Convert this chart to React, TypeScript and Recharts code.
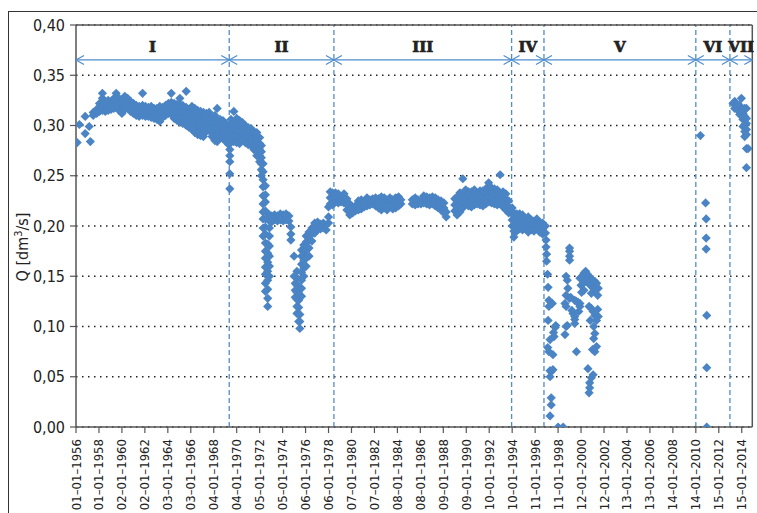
import React from "react";
import {
  ScatterChart,
  Scatter,
  XAxis,
  YAxis,
  CartesianGrid,
  ReferenceLine,
  ReferenceDot,
} from "recharts";

const FONT = "'Liberation Sans Narrow', 'Arial Narrow', 'DejaVu Sans Condensed', 'Liberation Sans', sans-serif";
const POINT_COLOR = "#4a84c4";
const LINE_BLUE = "#4f8ccc";
const AXIS_COLOR = "#555";

const X_MIN = 1956;
const X_MAX = 2014.92;

const xTickYears = [
  1956, 1958, 1960, 1962, 1964, 1966, 1968, 1970, 1972, 1974, 1976, 1978, 1980, 1982, 1984,
  1986, 1988, 1990, 1992, 1994, 1996, 1998, 2000, 2002, 2004, 2006, 2008, 2010, 2012, 2014,
];
const xTickLabels = [
  "01–01–1956", "01–01–1958", "02–01–1960", "02–01–1962", "03–01–1964", "03–01–1966",
  "04–01–1968", "04–01–1970", "05–01–1972", "05–01–1974", "06–01–1976", "06–01–1978",
  "07–01–1980", "07–01–1982", "08–01–1984", "08–01–1986", "09–01–1988", "09–01–1990",
  "10–01–1992", "10–01–1994", "11–01–1996", "11–01–1998", "12–01–2000", "12–01–2002",
  "13–01–2004", "13–01–2006", "14–01–2008", "14–01–2010", "15–01–2012", "15–01–2014",
];
const yTicks = [0, 0.05, 0.1, 0.15, 0.2, 0.25, 0.3, 0.35, 0.4];

const periodBounds = [1969.35, 1978.47, 1993.95, 1996.77, 2010.0, 2012.97];
const periodNames = ["I", "II", "III", "IV", "V", "VI", "VII"];
const ARROW_Q = 0.3652;
const LABEL_Q = 0.3734;

// columns: [year, q1, q2, ...]
const periodI: number[][] = [
  [1956.1, 0.283],
  [1956.3, 0.301],
  [1956.8, 0.292, 0.309],
  [1957.15, 0.299],
  [1957.25, 0.284],
  [1957.5, 0.31, 0.313],
  [1957.8, 0.312, 0.316],
  [1958.05, 0.314, 0.318, 0.322],
  [1958.3, 0.315, 0.32, 0.327, 0.332],
  [1958.55, 0.314, 0.319, 0.324],
  [1958.8, 0.315, 0.32, 0.325],
  [1959.05, 0.316, 0.321],
  [1959.3, 0.317, 0.322, 0.327],
  [1959.5, 0.318, 0.324, 0.332],
  [1959.75, 0.315, 0.32, 0.327],
  [1960.0, 0.312, 0.318, 0.324],
  [1960.25, 0.316, 0.322, 0.329],
  [1960.5, 0.317, 0.322, 0.327],
  [1960.75, 0.314, 0.319, 0.324],
  [1961.0, 0.312, 0.317, 0.322],
  [1961.25, 0.31, 0.315, 0.32],
  [1961.5, 0.309, 0.314, 0.319],
  [1961.8, 0.31, 0.315, 0.32, 0.332],
  [1962.05, 0.309, 0.314, 0.319],
  [1962.3, 0.309, 0.314, 0.318],
  [1962.55, 0.308, 0.313, 0.319],
  [1962.8, 0.307, 0.312, 0.317],
  [1963.05, 0.306, 0.311, 0.317],
  [1963.3, 0.304, 0.309, 0.315, 0.319],
  [1963.55, 0.308, 0.313, 0.318],
  [1963.8, 0.31, 0.315, 0.32],
  [1964.05, 0.312, 0.317, 0.322],
  [1964.3, 0.311, 0.317, 0.323, 0.332],
  [1964.55, 0.307, 0.312, 0.317, 0.322],
  [1964.8, 0.305, 0.31, 0.315, 0.321],
  [1965.05, 0.303, 0.309, 0.315, 0.321, 0.327],
  [1965.3, 0.302, 0.308, 0.314, 0.32],
  [1965.6, 0.3, 0.306, 0.312, 0.318, 0.334],
  [1965.85, 0.298, 0.304, 0.31, 0.316],
  [1966.1, 0.296, 0.302, 0.308, 0.314, 0.319],
  [1966.35, 0.293, 0.299, 0.305, 0.311, 0.317],
  [1966.6, 0.291, 0.297, 0.303, 0.309, 0.315],
  [1966.85, 0.29, 0.296, 0.302, 0.308, 0.314],
  [1967.1, 0.289, 0.295, 0.301, 0.307, 0.313],
  [1967.35, 0.294, 0.3, 0.306, 0.312],
  [1967.6, 0.295, 0.301, 0.307, 0.313],
  [1967.85, 0.289, 0.295, 0.301, 0.307],
  [1968.1, 0.285, 0.291, 0.297, 0.303, 0.31],
  [1968.3, 0.284, 0.29, 0.297, 0.305, 0.317],
  [1968.55, 0.288, 0.294, 0.3, 0.306],
  [1968.8, 0.287, 0.293, 0.299, 0.305],
  [1969.05, 0.284, 0.29, 0.296, 0.302],
  [1969.3, 0.281, 0.287, 0.293, 0.299],
];

const periodII: number[][] = [
  [1969.4, 0.237, 0.252, 0.264, 0.27, 0.276, 0.282],
  [1969.5, 0.288, 0.294, 0.3, 0.306],
  [1969.75, 0.284, 0.29, 0.296, 0.302, 0.314],
  [1970.0, 0.283, 0.289, 0.295, 0.301, 0.307],
  [1970.25, 0.282, 0.288, 0.294, 0.3, 0.305],
  [1970.5, 0.286, 0.292, 0.298, 0.303],
  [1970.75, 0.283, 0.289, 0.295, 0.3],
  [1971.0, 0.281, 0.287, 0.293, 0.298],
  [1971.25, 0.28, 0.286, 0.292, 0.297],
  [1971.5, 0.276, 0.282, 0.288, 0.294],
  [1971.75, 0.27, 0.276, 0.282, 0.288, 0.293],
  [1972.0, 0.264, 0.27, 0.276, 0.282, 0.288],
  [1972.15, 0.25, 0.256, 0.262, 0.268, 0.274, 0.28],
  [1972.3, 0.19, 0.198, 0.207, 0.214, 0.222, 0.23, 0.239, 0.246, 0.254, 0.262],
  [1972.5, 0.135, 0.143, 0.152, 0.159, 0.168, 0.175, 0.183, 0.192, 0.199, 0.207, 0.215, 0.224, 0.231, 0.24],
  [1972.7, 0.12, 0.128, 0.137, 0.146, 0.155, 0.164, 0.173, 0.182],
  [1972.85, 0.15, 0.16, 0.17, 0.18, 0.19, 0.198, 0.205, 0.211],
  [1973.05, 0.204, 0.21],
  [1973.3, 0.206, 0.211],
  [1973.55, 0.205, 0.21],
  [1973.8, 0.206, 0.212],
  [1974.05, 0.205, 0.211],
  [1974.3, 0.206, 0.212],
  [1974.55, 0.205, 0.21],
  [1974.72, 0.186, 0.192, 0.199],
  [1975.0, 0.17, 0.15],
  [1975.1, 0.143, 0.136, 0.129],
  [1975.25, 0.155, 0.148, 0.141, 0.134, 0.127, 0.12, 0.113],
  [1975.4, 0.14, 0.133, 0.126, 0.119, 0.112, 0.105],
  [1975.5, 0.098, 0.105, 0.112],
  [1975.65, 0.13, 0.138, 0.146, 0.154, 0.162, 0.17, 0.176],
  [1975.85, 0.15, 0.158, 0.166, 0.174, 0.181],
  [1976.05, 0.16, 0.168, 0.176, 0.184, 0.19],
  [1976.3, 0.17, 0.178, 0.186, 0.194],
  [1976.55, 0.185, 0.192, 0.198],
  [1976.8, 0.193, 0.199, 0.203],
  [1977.05, 0.196, 0.201, 0.204],
  [1977.3, 0.197, 0.202],
  [1977.55, 0.198, 0.203],
  [1977.8, 0.196, 0.201],
  [1978.0, 0.203, 0.209, 0.219],
  [1978.15, 0.222, 0.228, 0.234],
  [1978.35, 0.221, 0.227, 0.233],
];

const periodIII: number[][] = [
  [1978.6, 0.224, 0.229, 0.233],
  [1978.85, 0.223, 0.228, 0.232],
  [1979.1, 0.224, 0.229],
  [1979.35, 0.223, 0.228, 0.232],
  [1979.6, 0.216, 0.222, 0.227],
  [1979.85, 0.211, 0.217, 0.222],
  [1980.1, 0.213, 0.219],
  [1980.35, 0.215, 0.22],
  [1980.6, 0.216, 0.221, 0.225],
  [1980.85, 0.217, 0.222, 0.226],
  [1981.1, 0.219, 0.224],
  [1981.35, 0.22, 0.225, 0.228],
  [1981.6, 0.221, 0.226],
  [1981.85, 0.222, 0.227],
  [1982.1, 0.22, 0.225, 0.228],
  [1982.35, 0.218, 0.223, 0.227],
  [1982.6, 0.216, 0.221, 0.226, 0.229],
  [1982.85, 0.218, 0.223, 0.228],
  [1983.1, 0.216, 0.221, 0.226],
  [1983.35, 0.219, 0.224, 0.228],
  [1983.6, 0.217, 0.222, 0.226],
  [1983.85, 0.218, 0.223, 0.228],
  [1984.1, 0.22, 0.225, 0.229],
  [1984.3, 0.222, 0.226],
  [1985.3, 0.222, 0.226],
  [1985.55, 0.221, 0.225, 0.228],
  [1985.8, 0.222, 0.226],
  [1986.05, 0.222, 0.226],
  [1986.3, 0.223, 0.227, 0.23],
  [1986.55, 0.222, 0.226, 0.229],
  [1986.8, 0.221, 0.225, 0.228],
  [1987.05, 0.222, 0.226, 0.229],
  [1987.3, 0.22, 0.224, 0.228],
  [1987.55, 0.218, 0.222, 0.226],
  [1987.8, 0.216, 0.22, 0.225],
  [1988.05, 0.213, 0.218, 0.223],
  [1988.25, 0.209, 0.214],
  [1989.0, 0.215, 0.221, 0.227],
  [1989.2, 0.211, 0.217, 0.223, 0.229],
  [1989.45, 0.214, 0.22, 0.226, 0.233],
  [1989.7, 0.218, 0.224, 0.23, 0.247],
  [1989.95, 0.222, 0.227, 0.232, 0.236],
  [1990.2, 0.22, 0.225, 0.23, 0.234],
  [1990.45, 0.219, 0.224, 0.229, 0.234],
  [1990.7, 0.221, 0.226, 0.231, 0.236],
  [1990.95, 0.222, 0.227, 0.232],
  [1991.2, 0.221, 0.226, 0.231, 0.235],
  [1991.45, 0.22, 0.225, 0.23, 0.235],
  [1991.7, 0.222, 0.227, 0.232, 0.237],
  [1991.95, 0.224, 0.229, 0.234, 0.239, 0.243],
  [1992.2, 0.223, 0.228, 0.233, 0.238],
  [1992.45, 0.222, 0.227, 0.232, 0.237],
  [1992.7, 0.221, 0.226, 0.231, 0.236],
  [1992.95, 0.222, 0.227, 0.232, 0.251],
  [1993.2, 0.219, 0.224, 0.229, 0.234],
  [1993.45, 0.216, 0.221, 0.227, 0.232],
  [1993.7, 0.213, 0.219, 0.225],
];

const periodIV: number[][] = [
  [1994.0, 0.2, 0.206, 0.212, 0.218],
  [1994.15, 0.189, 0.195, 0.201, 0.207, 0.213],
  [1994.4, 0.195, 0.2, 0.206, 0.212],
  [1994.65, 0.197, 0.202, 0.207, 0.212],
  [1994.9, 0.196, 0.201, 0.206, 0.211],
  [1995.15, 0.197, 0.202, 0.207],
  [1995.4, 0.194, 0.199, 0.204, 0.209],
  [1995.65, 0.196, 0.201, 0.206],
  [1995.9, 0.195, 0.2, 0.205],
  [1996.15, 0.197, 0.202, 0.207],
  [1996.4, 0.194, 0.199, 0.204],
  [1996.65, 0.192, 0.197, 0.203],
];

// pairs: [year, q]
const periodV: number[][] = [
  [1996.9, 0.2], [1996.9, 0.193], [1996.95, 0.186], [1996.95, 0.179], [1997.0, 0.172], [1997.0, 0.165],
  [1997.08, 0.152], [1997.13, 0.139], [1997.2, 0.126], [1997.2, 0.12], [1997.5, 0.123], [1997.13, 0.106],
  [1997.8, 0.101], [1997.75, 0.099], [1997.6, 0.094], [1997.65, 0.09], [1997.3, 0.087], [1997.1, 0.079],
  [1997.2, 0.075], [1997.55, 0.072], [1997.3, 0.056], [1997.4, 0.055], [1997.55, 0.057], [1997.3, 0.05],
  [1997.4, 0.029], [1997.4, 0.022], [1997.3, 0.011], [1998.0, 0], [1998.44, 0],
  [1999.0, 0.178], [1999.0, 0.175], [1999.0, 0.17], [1999.0, 0.166],
  [1998.7, 0.15], [1998.8, 0.146], [1998.85, 0.138], [1998.7, 0.131], [1999.0, 0.128], [1998.6, 0.123],
  [1998.7, 0.12], [1999.1, 0.129], [1999.45, 0.126], [1999.6, 0.125], [1999.75, 0.124], [1999.9, 0.123],
  [1999.9, 0.12], [1999.8, 0.115], [1999.2, 0.116], [1999.3, 0.113], [1999.45, 0.11], [1999.45, 0.107],
  [1999.45, 0.103], [1998.8, 0.101], [1998.7, 0.1], [1998.6, 0.092], [1999.6, 0.075],
  [1999.9, 0.148], [2000.1, 0.15], [2000.25, 0.153], [2000.4, 0.155], [2000.55, 0.152], [2000.7, 0.15],
  [2000.85, 0.148], [2001.0, 0.146], [2001.2, 0.145], [2001.35, 0.143], [2001.5, 0.138],
  [2000.0, 0.141], [2000.2, 0.143], [2000.4, 0.146], [2000.6, 0.144], [2000.8, 0.141], [2001.0, 0.139],
  [2001.25, 0.136], [2001.45, 0.131], [2000.05, 0.134], [2000.25, 0.136], [2000.9, 0.133],
  [2000.7, 0.12], [2000.9, 0.118], [2001.05, 0.115], [2001.2, 0.111], [2001.35, 0.106], [2000.8, 0.106],
  [2001.1, 0.1], [2001.2, 0.093], [2001.1, 0.088], [2001.35, 0.08], [2001.0, 0.077], [2001.2, 0.075],
  [2001.45, 0.117], [2001.5, 0.11],
  [2000.6, 0.058], [2001.05, 0.052], [2000.9, 0.049], [2000.75, 0.044], [2000.75, 0.039], [2000.7, 0.034],
];

const periodVI: number[][] = [
  [2010.4, 0.29], [2010.85, 0.223], [2010.9, 0.207], [2010.9, 0.188], [2010.9, 0.177],
  [2010.95, 0.111], [2010.95, 0.059], [2010.95, 0.0],
];

const periodVII: number[][] = [
  [2013.24, 0.322], [2013.39, 0.324], [2013.39, 0.317], [2013.53, 0.32], [2013.68, 0.315], [2013.97, 0.327],
  [2013.82, 0.32], [2013.97, 0.315], [2014.11, 0.312], [2013.82, 0.311], [2014.26, 0.317], [2014.41, 0.317],
  [2014.11, 0.306], [2014.26, 0.309], [2014.41, 0.307], [2014.41, 0.302], [2014.26, 0.301], [2014.11, 0.299],
  [2014.41, 0.296], [2014.26, 0.294], [2014.41, 0.291], [2014.26, 0.289], [2014.41, 0.277], [2014.55, 0.277],
  [2014.41, 0.258],
];

const toPoints = (cols: number[][]) => {
  const out: { x: number; y: number }[] = [];
  cols.forEach((c) => {
    for (let i = 1; i < c.length; i++) out.push({ x: c[0], y: c[i] });
  });
  return out;
};

const allPoints = [
  ...toPoints(periodI),
  ...toPoints(periodII),
  ...toPoints(periodIII),
  ...toPoints(periodIV),
  ...toPoints(periodV),
  ...toPoints(periodVI),
  ...toPoints(periodVII),
];

const Diamond = (props: any) => {
  const { cx, cy } = props;
  if (typeof cx !== "number" || typeof cy !== "number") return null;
  const r = 4.6;
  return <path d={`M${cx},${cy - r}L${cx + r},${cy}L${cx},${cy + r}L${cx - r},${cy}Z`} fill={POINT_COLOR} />;
};

const XTick = (props: any) => {
  const { x, y, payload } = props;
  const idx = xTickYears.indexOf(payload.value);
  const label = idx >= 0 ? xTickLabels[idx] : "";
  const ax = x + 4.5;
  const ay = y + 4;
  return (
    <text
      x={ax}
      y={ay}
      transform={`rotate(-90, ${ax}, ${ay})`}
      textAnchor="end"
      fontSize={13}
      fill="#222"
      fontFamily={FONT}
    >
      {label}
    </text>
  );
};

const makeArrow = (left: boolean, right: boolean) => (props: any) => {
  const { cx, cy } = props;
  const L = 8;
  const H = 4.5;
  let d = "";
  if (left) d += `M${cx - L},${cy - H}L${cx},${cy}L${cx - L},${cy + H}`;
  if (right) d += `M${cx + L},${cy - H}L${cx},${cy}L${cx + L},${cy + H}`;
  return <path d={d} fill="none" stroke={LINE_BLUE} strokeWidth={1.2} />;
};

const makeLabel = (text: string) => (props: any) => {
  const { cx, cy } = props;
  return (
    <text
      x={cx}
      y={cy}
      textAnchor="middle"
      fontSize={15}
      fontWeight="bold"
      fill="#222"
      stroke="#222"
      strokeWidth={0.7}
      fontFamily="'DejaVu Serif', 'Liberation Serif', serif"
    >
      {text}
    </text>
  );
};

const fmtY = (v: number) => v.toFixed(2).replace(".", ",");

export default function App() {
  const edges = [X_MIN, ...periodBounds, X_MAX];
  const mids = periodNames.map((_, i) => (edges[i] + edges[i + 1]) / 2);
  return (
    <div style={{ position: "fixed", left: 0, top: 0, width: 757, height: 513, overflow: "hidden", background: "#fff" }}>
      <div
        style={{
          position: "absolute",
          left: 8,
          top: 11,
          width: 800,
          height: 600,
          borderLeft: "1px solid #333",
          borderTop: "1px solid #333",
        }}
      />
      <div style={{ position: "absolute", left: 0, top: 0 }}>
        <ScatterChart width={757} height={600} margin={{ top: 25, right: 4.7, left: 0, bottom: 73 }}>
          <CartesianGrid vertical={false} stroke="#222" strokeWidth={1.4} strokeDasharray="1.5 4.5" />
          <XAxis
            type="number"
            dataKey="x"
            domain={[X_MIN, X_MAX]}
            ticks={xTickYears}
            interval={0}
            height={100}
            tickSize={6}
            allowDataOverflow
            axisLine={{ stroke: AXIS_COLOR, strokeWidth: 1.5 }}
            tickLine={{ stroke: AXIS_COLOR, strokeWidth: 1.2 }}
            tick={(p: any) => <XTick {...p} />}
          />
          <YAxis
            type="number"
            dataKey="y"
            domain={[0, 0.4]}
            ticks={yTicks}
            interval={0}
            width={76}
            tickSize={6}
            tickMargin={5}
            allowDataOverflow
            tickFormatter={fmtY}
            axisLine={{ stroke: AXIS_COLOR, strokeWidth: 1.5 }}
            tickLine={{ stroke: AXIS_COLOR, strokeWidth: 1.2 }}
            tick={{ fontSize: 16, fill: "#222", fontFamily: FONT }}
          />
          {periodBounds.map((b) => (
            <ReferenceLine key={`b${b}`} x={b} stroke={LINE_BLUE} strokeWidth={1.3} strokeDasharray="5 3" ifOverflow="visible" />
          ))}
          <ReferenceLine y={ARROW_Q} stroke={LINE_BLUE} strokeWidth={1.2} ifOverflow="visible" />
          <ReferenceLine y={0.4} stroke={AXIS_COLOR} strokeWidth={1.5} ifOverflow="visible" />
          <ReferenceLine x={X_MAX} stroke={AXIS_COLOR} strokeWidth={1.5} ifOverflow="visible" />
          {edges.map((e, i) => (
            <ReferenceDot
              key={`a${i}`}
              x={e}
              y={ARROW_Q}
              r={1}
              ifOverflow="visible"
              shape={makeArrow(i > 0, i < edges.length - 1)}
            />
          ))}
          {periodNames.map((n, i) => (
            <ReferenceDot key={`l${n}`} x={mids[i]} y={LABEL_Q} r={1} ifOverflow="visible" shape={makeLabel(n)} />
          ))}
          <Scatter data={allPoints} shape={Diamond} isAnimationActive={false} />
        </ScatterChart>
      </div>
      <svg style={{ position: "absolute", left: 0, top: 0 }} width={60} height={513}>
        <text
          x={28}
          y={247}
          transform="rotate(-90, 28, 247)"
          textAnchor="middle"
          fontSize={16}
          fill="#222"
          fontFamily={FONT}
        >
          Q [dm<tspan fontSize={11} dy={-6}>3</tspan>
          <tspan dy={6}>/s]</tspan>
        </text>
      </svg>
    </div>
  );
}
